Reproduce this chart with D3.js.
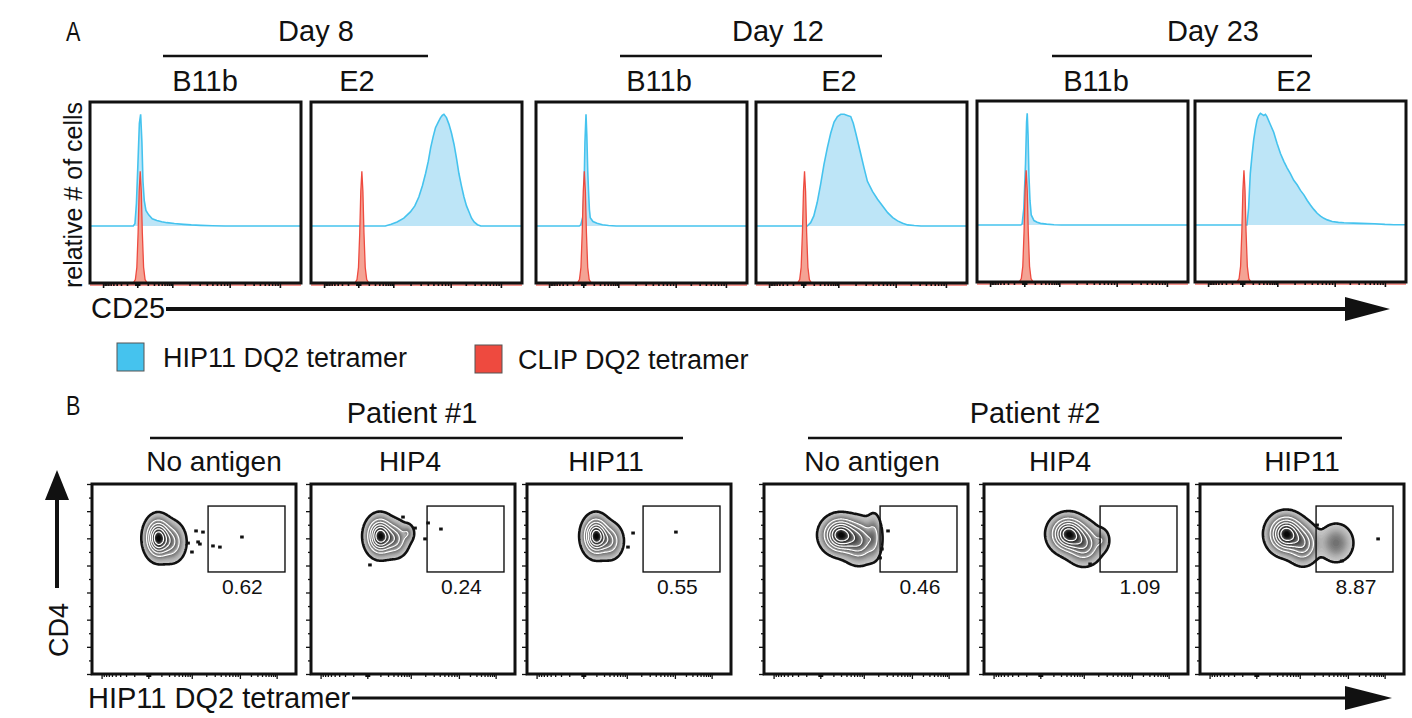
<!DOCTYPE html>
<html>
<head>
<meta charset="utf-8">
<script src="https://cdn.jsdelivr.net/npm/d3@7"></script>
<style>
  body { margin: 0; background: #fff; }
  text { font-family: "Liberation Sans", Arial, sans-serif; fill: #111; }
</style>
</head>
<body>
<script>
var svgWidth = 1412;
var svgHeight = 718;

// ---------- Panel A data ----------
var days = ["Day 8", "Day 12", "Day 23"];
var clones = ["B11b", "E2"];
var legendLabels = ["HIP11 DQ2 tetramer", "CLIP DQ2 tetramer"];
// major tick channels (-10^3, 0, 10^3, 10^4, 10^5)
var histTicks = [62, 224, 390, 662, 900];

// HIP11 DQ2 tetramer, [channel, % of mode]
var hipD8B11b = [[0,0],[205,0],[213,2],[220,20],[227,55],[234,92],[240,100],[246,75],[251,40],[257,23],[265,14],[278,10],[295,6.5],[317,5],[340,3.8],[365,3],[400,2.2],[444,1.5],[480,1],[524,0.6],[580,0.2],[640,0],[1000,0]];
var hipD8E2 = [[0,0],[352,0],[380,1.5],[408,3.6],[440,7],[471,12.6],[492,18],[511,26],[528,36],[543,47],[556,58],[567,70],[579,80],[590,88],[603,93],[614,97],[622,99],[630,100],[642,97],[654,91],[666,83],[678,73],[690,60],[701,47],[713,36],[725,26],[737,18],[749,12.6],[761,7],[773,3.6],[789,1.2],[805,0],[1000,0]];
var hipD12B11b = [[0,0],[205,0],[212,1],[222,8],[228,35],[232,75],[237,100],[241,80],[245,50],[249,31],[253,15],[257,7.5],[270,4],[289,2.4],[315,1.2],[344,0.5],[380,0],[1000,0]];
var hipD12E2 = [[0,0],[243,0],[259,3],[274,9],[290,21],[306,37],[322,55],[338,70],[354,83],[370,93],[386,98],[402,100],[418,100],[433,99],[449,98],[461,92],[473,83],[492,68],[512,52],[528,40],[552,31],[576,24],[600,18],[624,12],[648,7.5],[671,4.6],[695,2.5],[719,1],[750,0.4],[782,0],[1000,0]];
var hipD23B11b = [[0,0],[208,0],[214,1],[222,15],[230,55],[235,92],[238,100],[242,80],[246,45],[251,22],[257,9],[270,4],[285,2.5],[301,1.5],[330,0.8],[365,0.3],[400,0],[1000,0]];
var hipD23E2 = [[0,0],[246,0],[254,15],[262,46],[270,62],[278,76],[286,86],[294,94],[302,98],[310,100],[318,99],[326,98],[334,99],[341,97],[357,90],[373,83],[389,73],[405,64],[421,57],[437,51],[452,46],[468,40],[484,36],[500,31],[516,27],[532,22],[547,18],[563,14],[579,10.5],[595,8],[611,6],[627,4.6],[650,3.2],[680,2.4],[706,2],[750,1.7],[786,1.5],[850,1.2],[900,0.6],[943,0.3],[1000,0.2]];

// CLIP DQ2 tetramer, [channel, % of mode]
var clipD8B11b = [[0,0],[205,0],[215,3],[222,14],[228,45],[233,82],[238,100],[243,82],[248,45],[254,14],[261,3],[271,0],[1000,0]];
var clipD8E2 = [[0,0],[208,0],[218,3],[225,14],[231,45],[236,82],[241,100],[246,82],[251,45],[257,14],[264,3],[274,0],[1000,0]];
var clipD12B11b = [[0,0],[196,0],[206,3],[213,14],[219,45],[224,82],[229,100],[234,82],[239,45],[245,14],[252,3],[262,0],[1000,0]];
var clipD12E2 = [[0,0],[197,0],[207,3],[214,14],[220,45],[225,82],[230,100],[235,82],[240,45],[246,14],[253,3],[263,0],[1000,0]];
var clipD23B11b = [[0,0],[200,0],[210,3],[217,14],[223,45],[228,82],[233,100],[238,82],[243,45],[249,14],[256,3],[266,0],[1000,0]];
var clipD23E2 = [[0,0],[199,0],[209,3],[216,14],[222,45],[227,82],[232,100],[237,82],[242,45],[248,14],[255,3],[265,0],[1000,0]];

var hipCurves = [hipD8B11b, hipD8E2, hipD12B11b, hipD12E2, hipD23B11b, hipD23E2];
var clipCurves = [clipD8B11b, clipD8E2, clipD12B11b, clipD12E2, clipD23B11b, clipD23E2];

// ---------- Panel B data ----------
var patients = ["Patient #1", "Patient #2"];
var antigens = ["No antigen", "HIP4", "HIP11"];
var gatePercents = ["0.62", "0.24", "0.55", "0.46", "1.09", "8.87"];
var dotXTicks = [47, 276, 489, 725, 905];
var cd4Ticks = [0, 143, 286, 429, 571, 714, 857, 1000];
var gateX = [569, 946];
var gateY = [537, 884];

// population components: [x channel, y channel, sd x, sd y, weight]
var popP1None = [[324,716,32,53,1],[392,695,34,53,0.35]];
var popP1Hip4 = [[338,726,34,50,1],[412,711,34,47,0.4],[475,742,17,26,0.15]];
var popP1Hip11 = [[338,726,32,50,1],[407,700,32,47,0.35]];
var popP2None = [[373,732,44,47,1],[466,700,44,58,0.5],[539,726,20,63,0.2]];
var popP2Hip4 = [[412,737,44,47,1],[490,684,44,53,0.5],[578,705,20,32,0.15]];
var popP2Hip11 = [[422,737,44,50,1],[505,684,39,53,0.45],[667,690,46,55,0.2]];

// single events outside the contours
var evP1None = [[510,753],[544,747],[471,689],[520,695],[529,684],[490,642],[593,674],[627,668],[735,721]];
var evP1Hip4 = [[451,826],[510,768],[574,795],[637,763],[559,711],[289,574]];
var evP1Hip11 = [[520,742],[495,668],[730,747]];
var evP2None = [[608,753],[578,658],[569,611]];
var evP2Hip4 = [[520,579]];
var evP2Hip11 = [[873,711],[696,595],[574,784]];

var pops = [popP1None, popP1Hip4, popP1Hip11, popP2None, popP2Hip4, popP2Hip11];
var events = [evP1None, evP1Hip4, evP1Hip11, evP2None, evP2Hip4, evP2Hip11];

// ---------- layout ----------
var histLeft = [90, 311, 536, 756, 977, 1195];
var histTop = [102, 102, 102, 102, 101, 101];
var histW = 211, histH = 181;
var blueOffset = 51;   // vertical shift of the blue histograms

var dotLeft = [92, 311, 527, 764, 984, 1200];
var dotTop = 484, dotW = 204, dotH = 190;

var blue = "#45c3ee", blueFill = "#bde5f7";
var red = "#ee4a3f", redFill = "#f4a394";

var svg = d3.select("body")
            .append("svg")
            .attr("width", svgWidth)
            .attr("height", svgHeight);

svg.append("rect").attr("width", svgWidth).attr("height", svgHeight).attr("fill", "#fff");

// log-style minor ticks between major ticks
function minorTicks(major) {
  var out = [];
  for (var i = 0; i < major.length - 1; i++) {
    var a = major[i], b = major[i + 1];
    for (var k = 2; k < 10; k++) {
      var f = Math.log10(k);
      out.push(i === 0 ? b - (b - a) * f : a + (b - a) * f);
    }
  }
  var z = major[1];
  [-9, -6, -3, 3, 6, 9].forEach(function(d) { out.push(z + d); });
  return out;
}

// ---------- Panel A ----------
svg.append("text").attr("transform", "translate(66,41) scale(0.8,1)")
   .attr("font-size", 27).text("A");

var dayLine = [[163, 428], [620, 882], [1052, 1312]];
var dayTextX = [316, 778, 1213];
days.forEach(function(d, i) {
  svg.append("text").attr("x", dayTextX[i]).attr("y", 41).attr("text-anchor", "middle")
     .attr("font-size", 29).text(d);
  svg.append("line").attr("x1", dayLine[i][0]).attr("x2", dayLine[i][1])
     .attr("y1", 56).attr("y2", 56).attr("stroke", "#111").attr("stroke-width", 2.5);
});
var cloneTextX = [205, 357, 659, 839, 1096, 1294];
cloneTextX.forEach(function(x, i) {
  svg.append("text").attr("x", x).attr("y", 91).attr("text-anchor", "middle")
     .attr("font-size", 29).text(clones[i % 2]);
});

hipCurves.forEach(function(hip, i) {
  var clip = clipCurves[i];
  var x0 = histLeft[i], y0 = histTop[i];
  var xScale = d3.scaleLinear().domain([0, 1000]).range([x0, x0 + histW]);
  var yScale = d3.scaleLinear().domain([0, 162]).range([y0 + histH, y0]);
  var g = svg.append("g");

  g.append("path").datum(hip)
   .attr("fill", blueFill)
   .attr("d", d3.area().x(d => xScale(d[0])).y0(yScale(blueOffset)).y1(d => yScale(d[1] + blueOffset)));
  g.append("path").datum(hip)
   .attr("fill", "none").attr("stroke", blue).attr("stroke-width", 1.6)
   .attr("d", d3.line().x(d => xScale(d[0])).y(d => yScale(d[1] + blueOffset)));

  g.append("path").datum(clip)
   .attr("fill", redFill).attr("stroke", red).attr("stroke-width", 1.3)
   .attr("d", d3.area().x(d => xScale(d[0])).y0(yScale(0)).y1(d => yScale(d[1])));
  g.append("line").attr("x1", x0).attr("x2", x0 + histW)
   .attr("y1", y0 + histH + 2).attr("y2", y0 + histH + 2)
   .attr("stroke", red).attr("stroke-opacity", 0.6).attr("stroke-width", 2);

  g.append("rect").attr("x", x0).attr("y", y0).attr("width", histW).attr("height", histH)
   .attr("fill", "none").attr("stroke", "#111").attr("stroke-width", 3);

  var ax = g.append("g").attr("transform", "translate(0," + (y0 + histH) + ")")
            .call(d3.axisBottom(xScale).tickValues(histTicks).tickSize(5).tickFormat(""));
  var ax2 = g.append("g").attr("transform", "translate(0," + (y0 + histH) + ")")
             .call(d3.axisBottom(xScale).tickValues(minorTicks(histTicks)).tickSize(3).tickFormat(""));
  [ax, ax2].forEach(function(a) {
    a.select(".domain").remove();
    a.selectAll("line").attr("stroke", "#111").attr("stroke-width", 1.6);
  });
});

svg.append("text").attr("transform", "translate(82,195) rotate(-90)")
   .attr("text-anchor", "middle").attr("font-size", 25).text("relative # of cells");

svg.append("text").attr("x", 91).attr("y", 318).attr("font-size", 29).text("CD25");
svg.append("line").attr("x1", 166).attr("x2", 1350).attr("y1", 309).attr("y2", 309)
   .attr("stroke", "#111").attr("stroke-width", 4);
svg.append("path").attr("d", "M1345,297 L1390,309 L1345,321 Z").attr("fill", "#111");

// legend
var legendColors = [blue, red];
var legendX = [117, 475], legendTextX = [163, 518], legendY = [343, 345];
legendLabels.forEach(function(l, i) {
  svg.append("rect").attr("x", legendX[i]).attr("y", legendY[i]).attr("width", 27).attr("height", 28)
     .attr("fill", legendColors[i]).attr("stroke", "#555").attr("stroke-width", 1);
  svg.append("text").attr("x", legendTextX[i]).attr("y", legendY[i] + 24)
     .attr("font-size", 27).text(l);
});

// ---------- Panel B ----------
svg.append("text").attr("transform", "translate(66,415) scale(0.8,1)")
   .attr("font-size", 27).text("B");

var patientLine = [[150, 683], [808, 1342]];
var patientTextX = [412, 1035];
patients.forEach(function(p, i) {
  svg.append("text").attr("x", patientTextX[i]).attr("y", 423).attr("text-anchor", "middle")
     .attr("font-size", 29).text(p);
  svg.append("line").attr("x1", patientLine[i][0]).attr("x2", patientLine[i][1])
     .attr("y1", 438).attr("y2", 438).attr("stroke", "#111").attr("stroke-width", 2.5);
});
var antigenTextX = [214, 410, 606, 872, 1060, 1302];
antigenTextX.forEach(function(x, i) {
  svg.append("text").attr("x", x).attr("y", 471).attr("text-anchor", "middle")
     .attr("font-size", 28).text(antigens[i % 3]);
});

var zebra = [0.035, 0.2, 0.34, 0.49, 0.65, 0.82, 1.0001];
function greyFor(t) {
  var k = 0;
  while (k < zebra.length - 2 && t >= zebra[k + 1]) k++;
  var frac = (t - zebra[k]) / (zebra[k + 1] - zebra[k]);
  return d3.interpolateGreys(0.32 + 0.34 * frac + 0.07 * k);
}

pops.forEach(function(comps, i) {
  var x0 = dotLeft[i];
  var xScale = d3.scaleLinear().domain([0, 1000]).range([x0, x0 + dotW]);
  var yScale = d3.scaleLinear().domain([0, 1000]).range([dotTop + dotH, dotTop]);
  var g = svg.append("g");

  // density grid from the population components
  var step = 1;
  var nx = Math.ceil(dotW / step), ny = Math.ceil(dotH / step);
  var vals = new Array(nx * ny);
  var vmax = 0;
  for (var j = 0; j < ny; j++) {
    for (var k = 0; k < nx; k++) {
      var cx = xScale.invert(x0 + (k + 0.5) * step);
      var cy = yScale.invert(dotTop + (j + 0.5) * step);
      var v = 0;
      comps.forEach(function(c) {
        var dx = (cx - c[0]) / c[2], dy = (cy - c[1]) / c[3];
        v += c[4] * Math.exp(-0.5 * (dx * dx + dy * dy));
      });
      vals[k + j * nx] = v;
      if (v > vmax) vmax = v;
    }
  }
  vals = vals.map(v => v / vmax);

  var proj = d3.geoTransform({
    point: function(px, py) { this.stream.point(x0 + px * step, dotTop + py * step); }
  });
  var path = d3.geoPath(proj);

  var fillLevels = d3.range(0.035, 0.99, 0.015);
  var bands = d3.contours().size([nx, ny]).thresholds(fillLevels)(vals);
  g.selectAll(".band").data(bands).enter().append("path")
   .attr("d", path).attr("fill", d => greyFor(d.value)).attr("stroke", d => greyFor(d.value)).attr("stroke-width", 0.4);

  var rings = d3.contours().size([nx, ny]).thresholds(zebra.slice(1, 6))(vals);
  g.selectAll(".ring").data(rings).enter().append("path")
   .attr("d", path).attr("fill", "none").attr("stroke", "#fff").attr("stroke-width", 1.2);

  var outer = d3.contours().size([nx, ny]).thresholds([zebra[0]])(vals);
  g.selectAll(".outer").data(outer).enter().append("path")
   .attr("d", path).attr("fill", "none").attr("stroke", "#111").attr("stroke-width", 2.6);

  g.selectAll(".ev").data(events[i]).enter().append("rect")
   .attr("x", d => xScale(d[0]) - 1.8).attr("y", d => yScale(d[1]) - 1.5)
   .attr("width", 3.6).attr("height", 3).attr("fill", "#111");

  // gate
  g.append("rect").attr("x", xScale(gateX[0])).attr("y", yScale(gateY[1]))
   .attr("width", xScale(gateX[1]) - xScale(gateX[0])).attr("height", yScale(gateY[0]) - yScale(gateY[1]))
   .attr("fill", "none").attr("stroke", "#111").attr("stroke-width", 1.4);
  g.append("text").attr("x", xScale(i < 3 ? 737 : 765)).attr("y", yScale(gateY[0]) + 22)
   .attr("text-anchor", "middle").attr("font-size", 21).text(gatePercents[i]);

  g.append("rect").attr("x", x0).attr("y", dotTop).attr("width", dotW).attr("height", dotH)
   .attr("fill", "none").attr("stroke", "#111").attr("stroke-width", 3);

  var axB = g.append("g").attr("transform", "translate(0," + (dotTop + dotH) + ")")
             .call(d3.axisBottom(xScale).tickValues(dotXTicks).tickSize(5).tickFormat(""));
  var axB2 = g.append("g").attr("transform", "translate(0," + (dotTop + dotH) + ")")
              .call(d3.axisBottom(xScale).tickValues(minorTicks(dotXTicks)).tickSize(3).tickFormat(""));
  var axL = g.append("g").attr("transform", "translate(" + x0 + ",0)")
             .call(d3.axisLeft(yScale).tickValues(cd4Ticks).tickSize(5).tickFormat(""));
  var axL2 = g.append("g").attr("transform", "translate(" + x0 + ",0)")
              .call(d3.axisLeft(yScale).tickValues(cd4Ticks.slice(1).map((t, n) => (t + cd4Ticks[n]) / 2)).tickSize(3).tickFormat(""));
  [axB, axB2, axL, axL2].forEach(function(a) {
    a.select(".domain").remove();
    a.selectAll("line").attr("stroke", "#111").attr("stroke-width", 1.3);
  });
});

// CD4 arrow and label
svg.append("line").attr("x1", 57).attr("x2", 57).attr("y1", 588).attr("y2", 495)
   .attr("stroke", "#111").attr("stroke-width", 4);
svg.append("path").attr("d", "M45,500 L57,470 L69,500 Z").attr("fill", "#111");
svg.append("text").attr("transform", "translate(68,630) rotate(-90)")
   .attr("text-anchor", "middle").attr("font-size", 27).text("CD4");

// HIP11 DQ2 tetramer arrow
svg.append("text").attr("x", 88).attr("y", 708).attr("font-size", 29).text("HIP11 DQ2 tetramer");
svg.append("line").attr("x1", 352).attr("x2", 1350).attr("y1", 698).attr("y2", 698)
   .attr("stroke", "#111").attr("stroke-width", 3);
svg.append("path").attr("d", "M1345,686 L1392,698 L1345,710 Z").attr("fill", "#111");
</script>
</body>
</html>
